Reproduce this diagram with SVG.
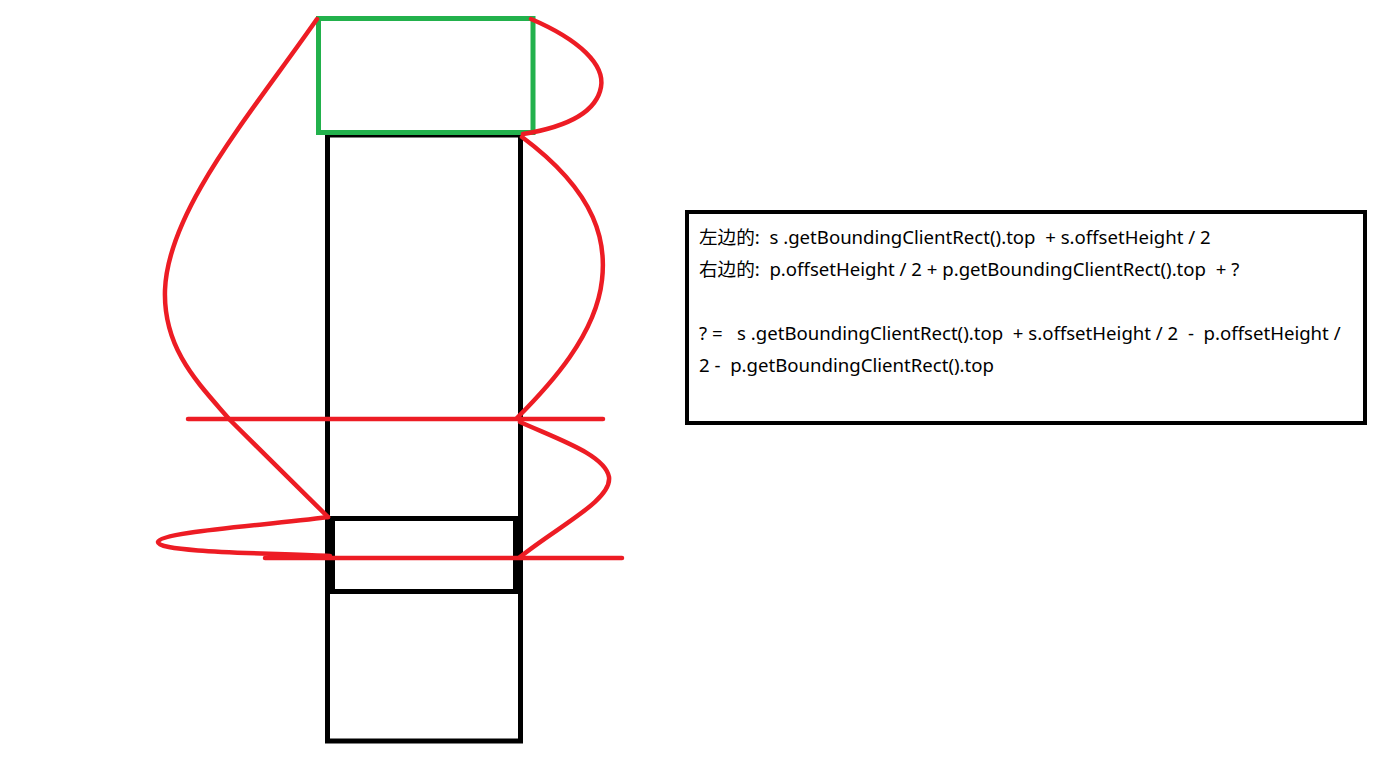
<svg xmlns="http://www.w3.org/2000/svg" width="1385" height="779" viewBox="0 0 1385 779">
<style>
.blk{fill:none;stroke:#000;stroke-width:5}
.grn{fill:none;stroke:#22b14c;stroke-width:5}
.red{fill:none;stroke:#ed1c24;stroke-width:4.5;stroke-linecap:round;stroke-linejoin:round}
.txt{font-family:"Noto Sans","Noto Sans CJK SC",sans-serif;font-size:18.6px;fill:#000}
</style>
<rect width="1385" height="779" fill="#fff"/>
<g id="tall-box"><rect class="blk" x="327.5" y="135" width="193" height="606"/></g>
<g id="small-box"><rect class="blk" x="332.5" y="518.5" width="183" height="73"/></g>
<g id="green-box"><rect class="grn" x="318.5" y="18.5" width="214.5" height="114"/></g>
<g id="connectors">
<path class="red" d="M317,19 C250,115 168,210 165,290 C163,350 200,385 230,420 L328,517"/>
<path class="red" d="M328,517 C260,526 160,532 158,542 C157,552 260,553 330,556"/>
<path class="red" d="M531,19 C580,40 605,65 601,87 C596,115 560,128 523,134"/>
<path class="red" d="M522,137 C600,195 606,245 602,280 C596,335 550,385 517,418"/>
<path class="red" d="M520,422 C560,440 605,455 609,477 C612,500 560,525 520,557"/>
<line class="red" x1="188" y1="419" x2="603" y2="419"/>
<line class="red" x1="265" y1="558" x2="622" y2="558"/>
</g>
<g id="formula-box">
<rect x="687" y="212" width="678" height="211" fill="#fff" stroke="#000" stroke-width="4"/>
<text class="txt" xml:space="preserve" x="699" y="244">左边的:  s .getBoundingClientRect().top  + s.offsetHeight / 2</text>
<text class="txt" xml:space="preserve" x="699" y="276">右边的:  p.offsetHeight / 2 + p.getBoundingClientRect().top  + ?</text>
<text class="txt" xml:space="preserve" x="699" y="340">? =   s .getBoundingClientRect().top  + s.offsetHeight / 2  -  p.offsetHeight /</text>
<text class="txt" xml:space="preserve" x="699" y="372">2 -  p.getBoundingClientRect().top</text>
</g>
</svg>
